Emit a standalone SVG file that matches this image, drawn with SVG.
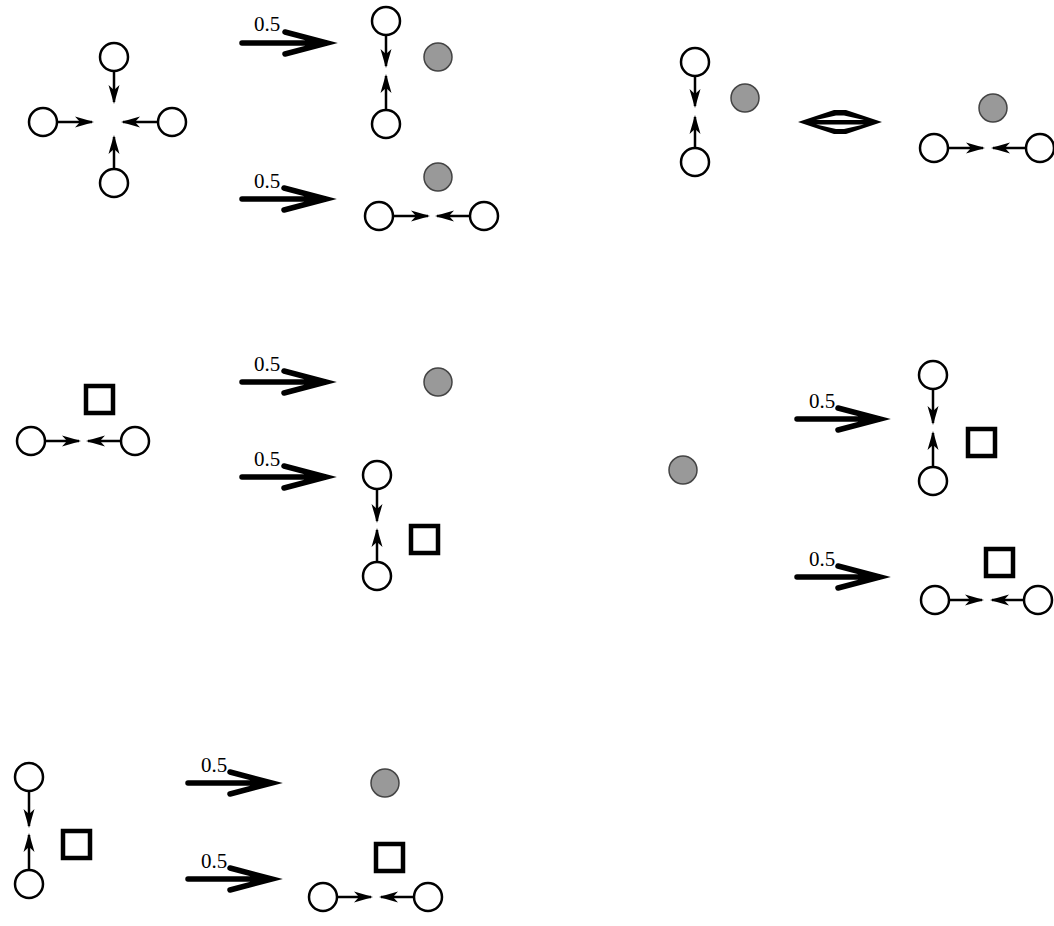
<svg xmlns="http://www.w3.org/2000/svg" width="1054" height="926" viewBox="0 0 1054 926">
<defs>
<style>
.c{fill:#fff;stroke:#000;stroke-width:2.5}
.g{fill:#999;stroke:#444;stroke-width:1.5}
.s{fill:#fff;stroke:#000;stroke-width:4.5}
.a{fill:none;stroke:#000;stroke-width:2.5;marker-end:url(#h)}
.big{fill:none;stroke:#000;stroke-width:5.5;stroke-linecap:round;stroke-linejoin:miter}
.lbl{font-family:"Liberation Serif","Times New Roman",serif;font-size:21px;fill:#000}
</style>
<marker id="h" viewBox="-20 -8 23 16" markerWidth="23" markerHeight="16" refX="0" refY="0" orient="auto" markerUnits="userSpaceOnUse">
<path d="M2,0 L-17,-5.5 L-12,0 L-17,5.5 Z" fill="#000"/>
</marker>
</defs>
<rect width="1054" height="926" fill="#fff"/>

<g id="p1-source">
<circle class="c" cx="114" cy="57" r="14"/>
<circle class="c" cx="114" cy="183" r="14"/>
<circle class="c" cx="43" cy="122" r="14"/>
<circle class="c" cx="172" cy="122" r="14"/>
</g>
<g id="p1-result-a">
<circle class="c" cx="386" cy="21" r="14"/>
<circle class="c" cx="386" cy="124" r="14"/>
<circle class="g" cx="438" cy="57" r="14"/>
</g>
<g id="p1-result-b">
<circle class="g" cx="438" cy="177" r="14"/>
<circle class="c" cx="379" cy="216" r="14"/>
<circle class="c" cx="484" cy="216" r="14"/>
</g>
<g id="p2-left">
<circle class="c" cx="695" cy="62" r="14"/>
<circle class="c" cx="695" cy="162" r="14"/>
<circle class="g" cx="745" cy="98" r="14"/>
</g>
<g id="p2-right">
<circle class="g" cx="993" cy="108" r="14"/>
<circle class="c" cx="934" cy="148" r="14"/>
<circle class="c" cx="1040" cy="148" r="14"/>
</g>
<g id="p3-source">
<rect class="s" x="86" y="386" width="27" height="27"/>
<circle class="c" cx="31" cy="441" r="14"/>
<circle class="c" cx="135" cy="441" r="14"/>
</g>
<g id="p3-result-a">
<circle class="g" cx="438" cy="382" r="14"/>
</g>
<g id="p3-result-b">
<circle class="c" cx="377" cy="475" r="14"/>
<circle class="c" cx="377" cy="576" r="14"/>
<rect class="s" x="411" y="526" width="27" height="27"/>
</g>
<g id="p4-source">
<circle class="g" cx="683" cy="470" r="14"/>
</g>
<g id="p4-result-a">
<circle class="c" cx="933" cy="375" r="14"/>
<circle class="c" cx="933" cy="481" r="14"/>
<rect class="s" x="968" y="429" width="27" height="27"/>
</g>
<g id="p4-result-b">
<rect class="s" x="986" y="549" width="27" height="27"/>
<circle class="c" cx="935" cy="600" r="14"/>
<circle class="c" cx="1038" cy="600" r="14"/>
</g>
<g id="p5-source">
<circle class="c" cx="29" cy="777" r="14"/>
<circle class="c" cx="29" cy="884" r="14"/>
<rect class="s" x="63" y="831" width="27" height="27"/>
</g>
<g id="p5-result-a">
<circle class="g" cx="385" cy="783" r="14"/>
</g>
<g id="p5-result-b">
<rect class="s" x="376" y="844" width="27" height="27"/>
<circle class="c" cx="323" cy="897" r="14"/>
<circle class="c" cx="428" cy="897" r="14"/>
</g>

<g id="connectors">
<line class="a" x1="114" y1="71" x2="114" y2="102"/>
<line class="a" x1="114" y1="169" x2="114" y2="137"/>
<line class="a" x1="57" y1="122" x2="92" y2="122"/>
<line class="a" x1="158" y1="122" x2="123" y2="122"/>

<line class="a" x1="386" y1="35" x2="386" y2="66"/>
<line class="a" x1="386" y1="110" x2="386" y2="76"/>
<line class="a" x1="393" y1="216" x2="428" y2="216"/>
<line class="a" x1="470" y1="216" x2="437" y2="216"/>

<line class="a" x1="695" y1="76" x2="695" y2="106"/>
<line class="a" x1="695" y1="148" x2="695" y2="117"/>
<line class="a" x1="948" y1="148" x2="983" y2="148"/>
<line class="a" x1="1026" y1="148" x2="993" y2="148"/>

<line class="a" x1="45" y1="441" x2="79" y2="441"/>
<line class="a" x1="121" y1="441" x2="88" y2="441"/>
<line class="a" x1="377" y1="489" x2="377" y2="521"/>
<line class="a" x1="377" y1="562" x2="377" y2="530"/>

<line class="a" x1="933" y1="389" x2="933" y2="423"/>
<line class="a" x1="933" y1="467" x2="933" y2="433"/>
<line class="a" x1="949" y1="600" x2="982" y2="600"/>
<line class="a" x1="1024" y1="600" x2="992" y2="600"/>

<line class="a" x1="29" y1="791" x2="29" y2="826"/>
<line class="a" x1="29" y1="870" x2="29" y2="835"/>
<line class="a" x1="337" y1="897" x2="371" y2="897"/>
<line class="a" x1="414" y1="897" x2="381" y2="897"/>

<path class="big" d="M242,43 H322 M285,32 L327,43 L285,54"/>
<path class="big" d="M242,199 H321 M284,188 L326,199 L284,210"/>
<path class="big" d="M242,382 H321 M284,371 L326,382 L284,393"/>
<path class="big" d="M242,477 H321 M284,466 L326,477 L284,488"/>
<path class="big" d="M797,419 H875 M838,408 L880,419 L838,430"/>
<path class="big" d="M797,577 H875 M838,566 L880,577 L838,588"/>
<path class="big" d="M188,783 H267 M230,772 L272,783 L230,794"/>
<path class="big" d="M188,879 H267 M230,868 L272,879 L230,890"/>

<path d="M798,122 L834,110 L846,110 L882,122 L846,134 L834,134 Z" fill="#000"/>
<path d="M816,120 L836,115.5 L844,115.5 L864,120 Z" fill="#fff"/>
<path d="M816,124.5 L836,129 L844,129 L864,124.5 Z" fill="#fff"/>
</g>

<g id="labels">
<text class="lbl" x="254" y="31">0.5</text>
<text class="lbl" x="254" y="188">0.5</text>
<text class="lbl" x="254" y="371">0.5</text>
<text class="lbl" x="254" y="466">0.5</text>
<text class="lbl" x="809" y="408">0.5</text>
<text class="lbl" x="809" y="566">0.5</text>
<text class="lbl" x="201" y="772">0.5</text>
<text class="lbl" x="201" y="868">0.5</text>
</g>
</svg>
